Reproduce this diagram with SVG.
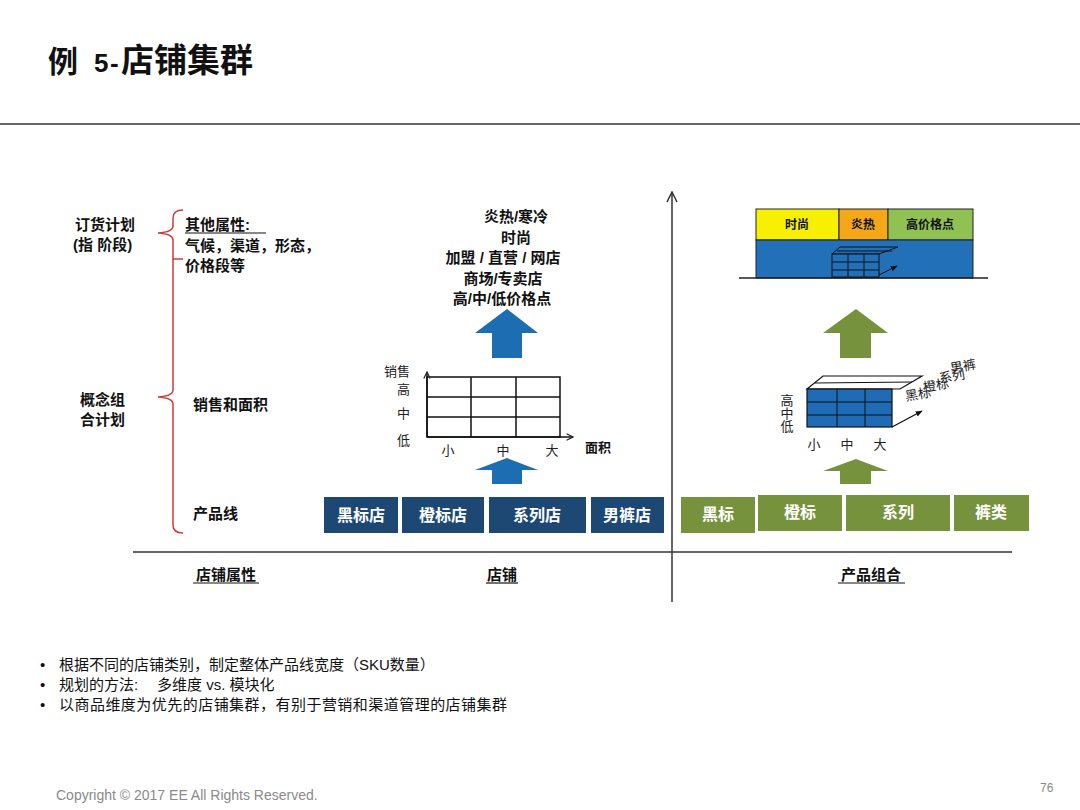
<svg xmlns="http://www.w3.org/2000/svg" width="1080" height="810" viewBox="0 0 1080 810">
<style>
.t{font-family:'Liberation Sans','Noto Sans CJK SC',sans-serif;fill:#111}
.b{font-weight:bold}
.m{text-anchor:middle}
.s{font-family:'Liberation Serif','Noto Sans CJK SC',serif;fill:#222;font-size:13px}
.w{fill:#fff;font-weight:bold;font-size:16px;text-anchor:middle;font-family:'Liberation Sans','Noto Sans CJK SC',sans-serif}
.navy{fill:#1c4873}
.olive{fill:#77923c}
</style>
<defs>
<marker id="chev" viewBox="0 0 10 10" refX="9" refY="5" markerWidth="8" markerHeight="8" orient="auto" markerUnits="userSpaceOnUse">
<path d="M1,1 L9,5 L1,9" fill="none" stroke="#222" stroke-width="1.5"/>
</marker>
<marker id="chevL" viewBox="0 0 12 12" refX="11" refY="6" markerWidth="12" markerHeight="12" orient="auto" markerUnits="userSpaceOnUse">
<path d="M1,1 L11,6 L1,11" fill="none" stroke="#333" stroke-width="1.5"/>
</marker>
<marker id="tri" viewBox="0 0 10 10" refX="9" refY="5" markerWidth="7" markerHeight="7" orient="auto" markerUnits="userSpaceOnUse">
<path d="M0,1 L10,5 L0,9 Z" fill="#111"/>
</marker>
</defs>
<rect width="1080" height="810" fill="#fff"/>

<g id="title">
<text class="t b" x="48" y="72" font-size="30">例</text>
<text class="t b" x="94" y="72" font-size="26">5</text>
<text class="t b" x="110" y="72" font-size="26">-</text>
<text class="t b" x="121" y="72" font-size="33">店铺集群</text>
<line x1="0" y1="124" x2="1080" y2="124" stroke="#333" stroke-width="1.5"/>
</g>

<g id="left-labels">
<text class="t b" x="75" y="230" font-size="15">订货计划</text>
<text class="t b" x="73" y="250" font-size="15">(指 阶段)</text>
<text class="t b" x="80" y="405" font-size="15">概念组</text>
<text class="t b" x="80" y="425" font-size="15">合计划</text>
</g>

<g id="brace">
<path d="M183,210 Q173,210 173,218 L173,226 Q173,232 158,233 Q173,234 173,240 L173,390 Q173,396 158,397 Q173,398 173,404 L173,525 Q173,533 183,533" fill="none" stroke="#d03a3a" stroke-width="1.5"/>
<line x1="173" y1="259" x2="183" y2="259" stroke="#d03a3a" stroke-width="1.5"/>
</g>

<g id="attr-labels">
<text class="t b" x="185" y="230" font-size="15">其他属性:</text>
<line x1="185" y1="233" x2="266" y2="233" stroke="#111" stroke-width="1.2"/>
<text class="t b" x="185" y="251" font-size="15">气候，渠道，形态，</text>
<text class="t b" x="185" y="271" font-size="15">价格段等</text>
<text class="t b" x="193" y="410" font-size="15">销售和面积</text>
<text class="t b" x="193" y="519" font-size="15">产品线</text>
</g>

<g id="store-text">
<text class="t b m" x="516" y="222" font-size="15">炎热/寒冷</text>
<text class="t b m" x="516" y="243" font-size="15">时尚</text>
<text class="t b m" x="503" y="263" font-size="15">加盟 / 直营 / 网店</text>
<text class="t b m" x="503" y="284" font-size="15">商场/专卖店</text>
<text class="t b m" x="502" y="304" font-size="15">高/中/低价格点</text>
</g>

<g id="blue-arrow-top">
<polygon points="507,309 538,333 522,333 522,358 492,358 492,333 475,333" fill="#1d6db3"/>
</g>
<g id="blue-arrow-bottom">
<polygon points="507,458 538,470 522,470 522,484 492,484 492,470 475,470" fill="#1d6db3"/>
</g>

<g id="sales-grid">
<rect x="427" y="377" width="133" height="60" fill="none" stroke="#111" stroke-width="1.5"/>
<line x1="427" y1="397" x2="560" y2="397" stroke="#111" stroke-width="1.5"/>
<line x1="427" y1="417" x2="560" y2="417" stroke="#111" stroke-width="1.5"/>
<line x1="471" y1="377" x2="471" y2="437" stroke="#111" stroke-width="1.5"/>
<line x1="516" y1="377" x2="516" y2="437" stroke="#111" stroke-width="1.5"/>
<line x1="427" y1="437" x2="427" y2="372" stroke="#111" stroke-width="1.5" marker-end="url(#chev)"/>
<line x1="427" y1="437" x2="573" y2="437" stroke="#111" stroke-width="1.5" marker-end="url(#chev)"/>
<text class="s" x="384" y="376">销售</text>
<text class="s" x="397" y="394">高</text>
<text class="s" x="397" y="418">中</text>
<text class="s" x="397" y="445">低</text>
<text class="s m" x="448" y="455">小</text>
<text class="s m" x="503" y="455">中</text>
<text class="s m" x="552" y="455">大</text>
<text class="t b" x="585" y="452" font-size="13">面积</text>
</g>

<g id="store-blocks">
<rect class="navy" x="324" y="497" width="74" height="36"/>
<rect class="navy" x="402" y="497" width="82" height="36"/>
<rect class="navy" x="489" y="497" width="97" height="36"/>
<rect class="navy" x="591" y="497" width="73" height="36"/>
<text class="w" x="361" y="521">黑标店</text>
<text class="w" x="443" y="521">橙标店</text>
<text class="w" x="537" y="521">系列店</text>
<text class="w" x="627" y="521">男裤店</text>
</g>

<g id="axes">
<line x1="133" y1="552" x2="1012" y2="552" stroke="#333" stroke-width="1.5"/>
<line x1="672" y1="602" x2="672" y2="192" stroke="#333" stroke-width="1.5" marker-end="url(#chevL)"/>
</g>

<g id="bottom-labels">
<text class="t b m" x="226" y="580" font-size="15">店铺属性</text>
<line x1="193" y1="583" x2="259" y2="583" stroke="#111" stroke-width="1.2"/>
<text class="t b m" x="502" y="580" font-size="15">店铺</text>
<line x1="486" y1="583" x2="518" y2="583" stroke="#111" stroke-width="1.2"/>
<text class="t b m" x="871" y="580" font-size="15">产品组合</text>
<line x1="838" y1="583" x2="905" y2="583" stroke="#111" stroke-width="1.2"/>
</g>

<g id="store-model">
<rect x="756" y="209" width="83" height="31" fill="#f7f000" stroke="#222" stroke-width="1"/>
<rect x="839" y="209" width="49" height="31" fill="#f5a817" stroke="#222" stroke-width="1"/>
<rect x="888" y="209" width="85" height="31" fill="#8fc153" stroke="#222" stroke-width="1"/>
<rect x="756" y="240" width="217" height="38" fill="#2170b8" stroke="#222" stroke-width="1"/>
<line x1="739" y1="278" x2="988" y2="278" stroke="#222" stroke-width="1.5"/>
<text class="t b m" x="797" y="229" font-size="12">时尚</text>
<text class="t b m" x="863" y="229" font-size="12">炎热</text>
<text class="t b m" x="930" y="229" font-size="12">高价格点</text>
<polygon points="832,254 840,247 898,247 879,254" fill="#2170b8" stroke="#111" stroke-width="1"/>
<line x1="837" y1="251" x2="892" y2="251" stroke="#111" stroke-width="1"/>
<rect x="832" y="254" width="47" height="23" fill="#2170b8" stroke="#111" stroke-width="1"/>
<line x1="832" y1="262" x2="879" y2="262" stroke="#111" stroke-width="1"/>
<line x1="832" y1="270" x2="879" y2="270" stroke="#111" stroke-width="1"/>
<line x1="848" y1="254" x2="848" y2="277" stroke="#111" stroke-width="1"/>
<line x1="864" y1="254" x2="864" y2="277" stroke="#111" stroke-width="1"/>
<line x1="879" y1="275" x2="897" y2="266" stroke="#111" stroke-width="1" marker-end="url(#tri)"/>
</g>

<g id="green-arrow-top">
<polygon points="856,309 888,333 871,333 871,358 840,358 840,333 823,333" fill="#77923c"/>
</g>
<g id="green-arrow-bottom">
<polygon points="856,459 888,471 871,471 871,484 840,484 840,471 823,471" fill="#77923c"/>
</g>

<g id="product-cube">
<polygon points="807,389 823,376 922,376 900,389" fill="#fff" stroke="#111" stroke-width="1.2"/>
<line x1="815" y1="383" x2="912" y2="382" stroke="#111" stroke-width="1"/>
<rect x="807" y="389" width="85" height="38" fill="#1f6bb5" stroke="#111" stroke-width="1.2"/>
<line x1="807" y1="402" x2="892" y2="402" stroke="#111" stroke-width="1"/>
<line x1="807" y1="415" x2="892" y2="415" stroke="#111" stroke-width="1"/>
<line x1="837" y1="389" x2="837" y2="427" stroke="#111" stroke-width="1"/>
<line x1="865" y1="389" x2="865" y2="427" stroke="#111" stroke-width="1"/>
<line x1="892" y1="427" x2="922" y2="411" stroke="#111" stroke-width="1.2" marker-end="url(#tri)"/>
<text class="s" font-size="9" transform="translate(906,401) rotate(-10)">黑标</text>
<text class="s" font-size="9" transform="translate(924,392) rotate(-10)">橙标</text>
<text class="s" font-size="9" transform="translate(940,383) rotate(-10)">系列</text>
<text class="s" font-size="9" transform="translate(951,373) rotate(-10)">男裤</text>
<text class="s m" x="787" y="405">高</text>
<text class="s m" x="787" y="418">中</text>
<text class="s m" x="787" y="431">低</text>
<text class="s m" x="814" y="449">小</text>
<text class="s m" x="847" y="449">中</text>
<text class="s m" x="880" y="449">大</text>
</g>

<g id="product-blocks">
<rect class="olive" x="681" y="497" width="74" height="36"/>
<rect class="olive" x="758" y="495" width="84" height="36"/>
<rect class="olive" x="846" y="495" width="104" height="36"/>
<rect class="olive" x="954" y="495" width="75" height="36"/>
<text class="w" x="718" y="520">黑标</text>
<text class="w" x="800" y="518">橙标</text>
<text class="w" x="898" y="518">系列</text>
<text class="w" x="991" y="518">裤类</text>
</g>

<g id="bullets">
<text class="t" x="40" y="670" font-size="15">•</text>
<text class="t" x="59" y="670" font-size="15">根据不同的店铺类别，制定整体产品线宽度（SKU数量）</text>
<text class="t" x="40" y="690" font-size="15">•</text>
<text class="t" x="59" y="690" font-size="15">规划的方法: <tspan x="157">多维度 vs. 模块化</tspan></text>
<text class="t" x="40" y="710" font-size="15">•</text>
<text class="t" x="59" y="710" font-size="15" textLength="448" lengthAdjust="spacing">以商品维度为优先的店铺集群，有别于营销和渠道管理的店铺集群</text>
</g>

<g id="footer">
<text x="56" y="800" font-family="'Liberation Sans',sans-serif" font-size="14" fill="#8a8a8a">Copyright © 2017 EE All Rights Reserved.</text>
<text x="1040" y="792" font-family="'Liberation Sans',sans-serif" font-size="12" fill="#8a8a8a">76</text>
</g>
</svg>
